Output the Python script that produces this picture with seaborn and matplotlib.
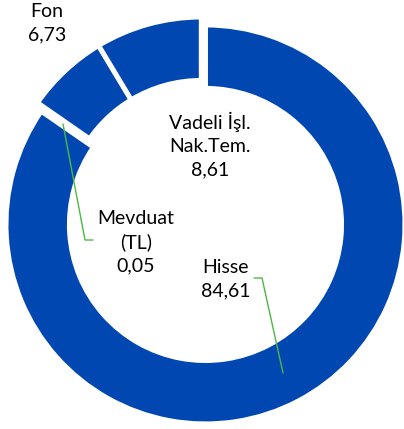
import matplotlib
matplotlib.use("Agg")
import matplotlib.pyplot as plt
import seaborn as sns

sns.set_theme(style="white")
plt.rcParams['font.family'] = ['Lato', 'DejaVu Sans']

categories = ["Hisse", "Mevduat\n(TL)", "Fon", "Vadeli İşl.\nNak.Tem."]
values = [84.61, 0.05, 6.73, 8.61]
value_labels = ["84,61", "0,05", "6,73", "8,61"]
explode = [0.045, 0, 0, 0]

BLUE = "#0047B2"
GREEN = "#4DB843"

W, H = 404, 429
fig = plt.figure(figsize=(W / 100, H / 100), dpi=100)
ax = fig.add_axes([0, 0, 1, 1])

# pixel geometry of the ring
CX, CY, R = 201.3, 216.5, 199.5


def P(px, py):
    return ((px - CX) / R, (CY - py) / R)


ax.pie(values, colors=[BLUE] * len(values), startangle=90, counterclock=False,
       explode=explode, radius=1.0, center=(0, 0),
       wedgeprops=dict(width=0.318, edgecolor="white", linewidth=3.6))

x0, y0 = P(0, H)
x1, y1 = P(W, 0)
ax.set_xlim(x0, x1)
ax.set_ylim(y0, y1)
ax.set_aspect("equal")
ax.axis("off")

label_pos = {
    "Hisse": (226, 279),
    "Mevduat\n(TL)": (136, 242),
    "Fon": (47, 23),
    "Vadeli İşl.\nNak.Tem.": (210, 145),
}
for cat, vl in zip(categories, value_labels):
    px, py = label_pos[cat]
    ax.text(*P(px, py), f"{cat}\n{vl}", ha="center", va="center",
            fontsize=14, color="#000000", linespacing=1.42)

# leader lines
lx, ly = zip(P(93, 240), P(85, 240), P(63, 124))
ax.plot(lx, ly, color=GREEN, lw=1.0)
lx, ly = zip(P(254, 278), P(262, 278), P(283, 373))
ax.plot(lx, ly, color=GREEN, lw=1.0)

fig.savefig("out.png", dpi=100)
